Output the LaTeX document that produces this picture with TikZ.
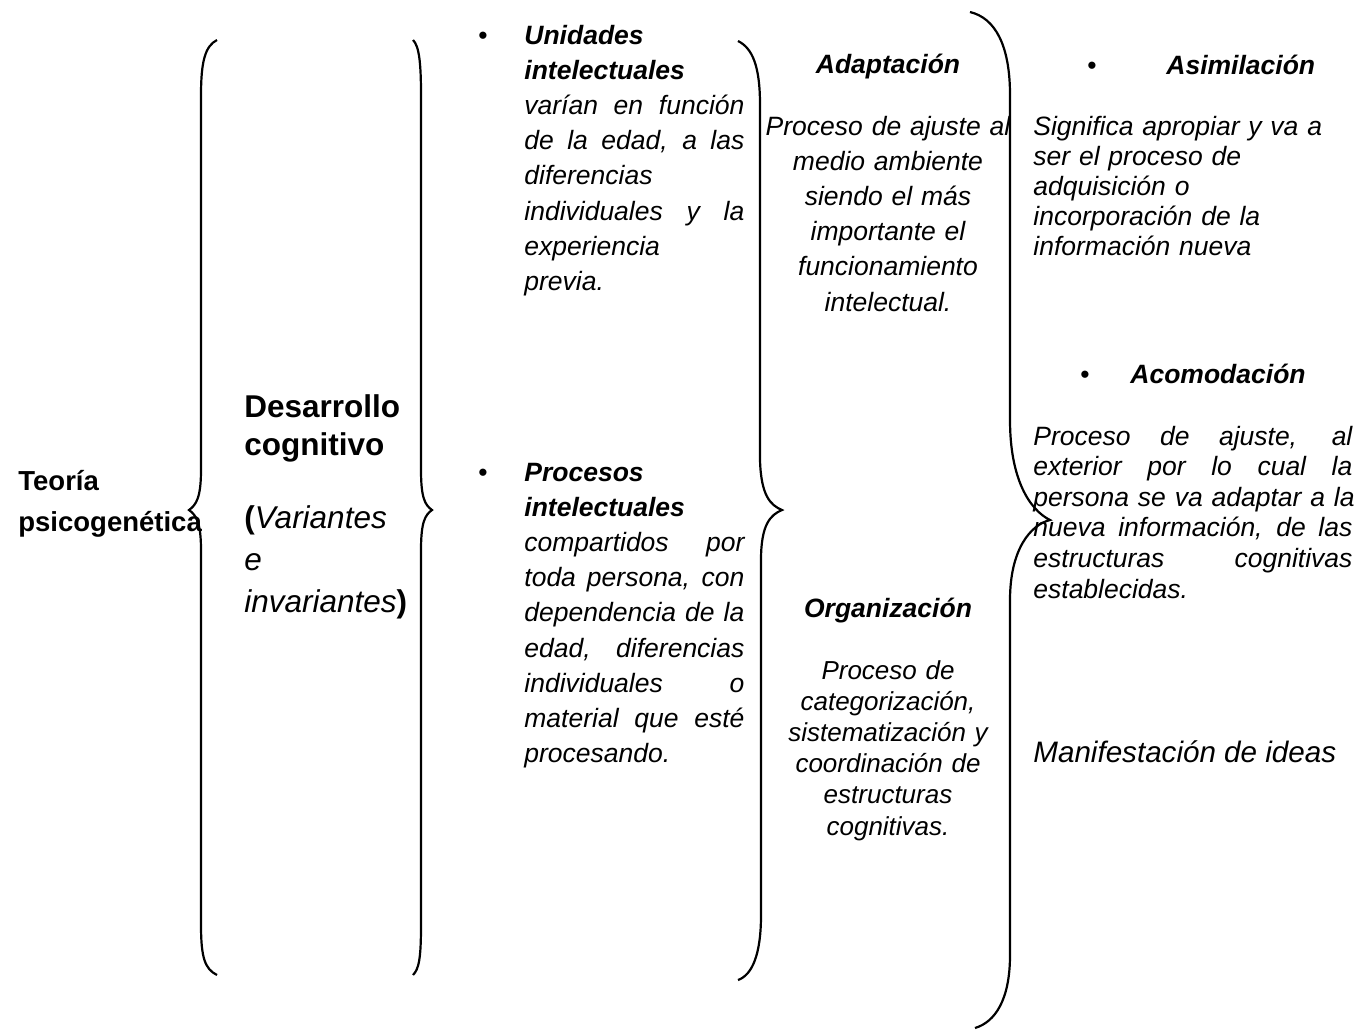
\documentclass[tikz,border=0pt]{standalone}
\usepackage{fontspec}
\setmainfont{Liberation Sans}
\newcommand{\lj}[2][110pt]{\makebox[#1][s]{\spaceskip=0.3333em plus 3em\relax #2}}

\begin{document}
\begin{tikzpicture}[x=0.5pt,y=-0.5pt,
		llave/.style={line width=1.1pt},
		cuerpo/.style={inner sep=0pt,anchor=base west,align=left,font=\fontsize{13.25}{17.6}\selectfont\itshape},
		centro/.style={inner sep=0pt,anchor=base,align=center,text width=135pt},
		titulo/.style={inner sep=0pt,anchor=base,font=\fontsize{13.25}{16}\selectfont\bfseries\itshape},
		punto/.style={inner sep=0pt,anchor=base,font=\fontsize{13.25}{16}\selectfont}]
	\useasboundingbox (0,0) rectangle (1370,1030);
	% titulo y primer nivel
	\node[inner sep=0pt,anchor=base west,align=left,text width=100pt,font=\fontsize{13.75}{20.5}\selectfont\bfseries] (teoria) at (18,490) {Teoría\\psicogenética};
	\node[inner sep=0pt,anchor=base west,align=left,text width=90pt,font=\fontsize{15.75}{19}\selectfont\bfseries] (desarrollo) at (244,417) {Desarrollo\\cognitivo};
	\node[inner sep=0pt,anchor=base west,align=left,text width=90pt,font=\fontsize{15.75}{21}\selectfont] (variantes) at (244,528) {\textbf{(}\textit{Variantes}\\\textit{e}\\\textit{invariantes}\textbf{)}};
	% unidades y procesos
	\node[punto] (p1) at (483,44) {\textbullet};
	\node[cuerpo,text width=110pt] (unidades) at (524,44) {\textbf{Unidades}\\\textbf{intelectuales}\\\lj{varían en función}\\\lj{de la edad, a las}\\diferencias\\\lj{individuales y la}\\experiencia\\previa.};
	\node[punto] (p2) at (483,481) {\textbullet};
	\node[cuerpo,text width=110pt] (procesos) at (524,481) {\textbf{Procesos}\\\textbf{intelectuales}\\\lj{compartidos por}\\\lj{toda persona, con}\\\lj{dependencia de la}\\\lj{edad, diferencias}\\\lj{individuales o}\\\lj{material que esté}\\procesando.};
	% adaptacion y organizacion
	\node[titulo] (adaptacion) at (888,73) {Adaptación};
	\node[centro,font=\fontsize{13.25}{17.6}\selectfont\itshape] (adaptdef) at (888,135) {Proceso de ajuste al\\medio ambiente\\siendo el más\\importante el\\funcionamiento\\intelectual.};
	\node[titulo] (organizacion) at (888,617) {Organización};
	\node[centro,font=\fontsize{13}{15.6}\selectfont\itshape] (orgdef) at (888,679) {Proceso de\\categorización,\\sistematización y\\coordinación de\\estructuras\\cognitivas.};
	% asimilacion y acomodacion
	\node[punto] (p3) at (1092,74) {\textbullet};
	\node[titulo,anchor=base west] (asimilacion) at (1166,74) {Asimilación};
	\node[cuerpo,text width=160pt,font=\fontsize{13.25}{15}\selectfont\itshape] (asimdef) at (1033,135) {Significa apropiar y va a\\ser el proceso de\\adquisición o\\incorporación de la\\información nueva};
	\node[punto] (p4) at (1085,383) {\textbullet};
	\node[titulo,anchor=base west] (acomodacion) at (1130,383) {Acomodación};
	\node[cuerpo,text width=159.5pt,font=\fontsize{13.25}{15.3}\selectfont\itshape] (acomdef) at (1033,445) {\lj[159.5pt]{Proceso de ajuste, al}\\\lj[159.5pt]{exterior por lo cual la}\\\lj[159.5pt]{persona se va adaptar a la}\\\lj[159.5pt]{nueva información, de las}\\\lj[159.5pt]{estructuras cognitivas}\\establecidas.};
	\node[cuerpo,font=\fontsize{14.8}{18}\selectfont\itshape] (ideas) at (1033,762) {Manifestación de ideas};
	% llaves
	\draw[llave] (217,40) .. controls (205,46) and (201,62) .. (201,95) -- (201,470) .. controls (201,498) and (196,505) .. (189,510) .. controls (196,515) and (201,522) .. (201,550) -- (201,925) .. controls (201,958) and (205,969) .. (217,975);
	\draw[llave] (413,40) .. controls (419,46) and (421,62) .. (421,95) -- (421,470) .. controls (421,498) and (425,505) .. (432,510) .. controls (425,515) and (421,522) .. (421,550) -- (421,925) .. controls (421,958) and (419,969) .. (413,975);
	\draw[llave] (738,41) .. controls (752,48) and (760,65) .. (760,105) -- (760,460) .. controls (761,495) and (770,505) .. (782,510) .. controls (770,515) and (761,525) .. (761,560) -- (761,915) .. controls (761,955) and (752,975) .. (738,980);
	\draw[llave] (970,12) .. controls (995,18) and (1010,45) .. (1010,95) -- (1010,420) .. controls (1010,480) and (1030,510) .. (1050,520) .. controls (1030,525) and (1010,550) .. (1010,600) -- (1010,955) .. controls (1010,1000) and (995,1022) .. (975,1028);
\end{tikzpicture}
\end{document}
